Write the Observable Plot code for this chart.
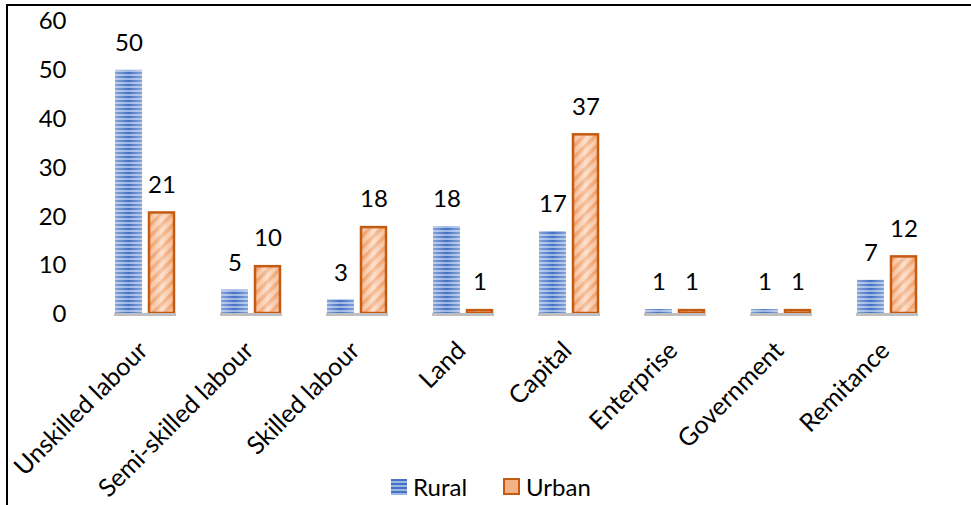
<!DOCTYPE html>
<html>
<head>
<meta charset="utf-8">
<script src="https://cdn.jsdelivr.net/npm/d3@7"></script>
<script src="https://cdn.jsdelivr.net/npm/@observablehq/plot@0.6"></script>
<style>
  html, body { margin: 0; padding: 0; background: #fff; }
  body { width: 971px; height: 505px; position: relative; overflow: hidden; font-family: Lato, sans-serif; }
  #frame { position: absolute; left: 6px; top: 4px; width: 970px; height: 505px; border-left: 2px solid #000; border-top: 2px solid #000; box-sizing: border-box; }
  #chart { position: absolute; left: 0; top: 0; }
  #legend { position: absolute; top: 472px; left: 391px; display: flex; align-items: center; font-size: 24px; color: #000; }
  #legend .item { display: flex; align-items: center; }
  #legend svg { display: block; margin-right: 6px; }
</style>
</head>
<body>
<svg width="0" height="0" style="position:absolute">
  <defs>
    <pattern id="ruralPat" patternUnits="userSpaceOnUse" width="8" height="4">
      <rect width="8" height="4" fill="#9DB6E4"></rect>
      <rect width="8" height="2" fill="#4472C4"></rect>
    </pattern>
    <pattern id="urbanPat" patternUnits="userSpaceOnUse" width="8" height="8" patternTransform="rotate(45)">
      <rect width="8" height="8" fill="#F9D5BC"></rect>
      <rect width="3.5" height="8" fill="#F2A877"></rect>
    </pattern>
    <linearGradient id="glow" x1="0" x2="1" y1="0" y2="0">
      <stop offset="0" stop-color="#fff" stop-opacity="0.35"></stop>
      <stop offset="0.5" stop-color="#fff" stop-opacity="0"></stop>
      <stop offset="1" stop-color="#fff" stop-opacity="0.35"></stop>
    </linearGradient>
    <linearGradient id="glowU" x1="0" x2="1" y1="0" y2="0">
      <stop offset="0" stop-color="#ED7D31" stop-opacity="0.25"></stop>
      <stop offset="0.5" stop-color="#fff" stop-opacity="0.3"></stop>
      <stop offset="1" stop-color="#ED7D31" stop-opacity="0.25"></stop>
    </linearGradient>
  </defs>
</svg>
<div id="frame"></div>
<div id="chart"></div>
<div id="legend">
  <div class="item"><svg width="16" height="16"><rect width="16" height="16" fill="url(#ruralPat)"></rect></svg><span>Rural</span></div>
  <div class="item" style="margin-left:36px"><svg width="17" height="17"><rect x="1" y="1" width="15" height="15" fill="#F4B183" stroke="#C55A11" stroke-width="2"></rect></svg><span>Urban</span></div>
</div>
<script>
const categories = ["Unskilled labour", "Semi-skilled labour", "Skilled labour", "Land", "Capital", "Enterprise", "Government", "Remitance"];
const series = ["Rural", "Urban"];
const rural = [50, 5, 3, 18, 17, 1, 1, 7];
const urban = [21, 10, 18, 1, 37, 1, 1, 12];
const yTicks = [0, 10, 20, 30, 40, 50, 60];

const ruralData = categories.map((c, i) => ({category: c, series: "Rural", value: rural[i]}));
const urbanData = categories.map((c, i) => ({category: c, series: "Urban", value: urban[i]}));
const all = ruralData.concat(urbanData);

const chart = Plot.plot({
  width: 971,
  height: 465,
  marginLeft: 92,
  marginRight: 31,
  marginTop: 21,
  marginBottom: 151,
  style: {fontFamily: "Lato, sans-serif", fontSize: "24px", color: "#000", background: "transparent", overflow: "visible"},
  fx: {domain: categories, paddingInner: 0.415, paddingOuter: 0.2075, label: null},
  x: {domain: series, paddingInner: 0.176, paddingOuter: 0, axis: null},
  y: {domain: [0, 60], label: null},
  marks: [
    Plot.axisY({ticks: yTicks, tickSize: 0, tickPadding: 26, dx: -22, label: null, fontSize: 24, tickFormat: d => String(d)}),
    Plot.axisFx({anchor: "bottom", tickRotate: -45, tickSize: 0, tickPadding: 32, dx: -2, label: null, fontSize: 25}),
    Plot.barY(ruralData, {fx: "category", x: "series", y: "value", fill: "url(#ruralPat)"}),
    Plot.barY(ruralData, {fx: "category", x: "series", y: "value", fill: "url(#glow)"}),
    Plot.barY(urbanData, {fx: "category", x: "series", y: "value", fill: "url(#urbanPat)", inset: 1}),
    Plot.barY(urbanData, {fx: "category", x: "series", y: "value", fill: "url(#glowU)", stroke: "#C55A11", strokeWidth: 2.5, inset: 1}),
    Plot.ruleY([0], {stroke: "#BFBFBF", strokeWidth: 3}),
    Plot.text(all, {fx: "category", x: "series", y: "value", text: d => String(d.value), dy: -27, lineAnchor: "middle", fontSize: 24, fill: "#000"})
  ]
});
document.getElementById("chart").appendChild(chart);
</script>
</body>
</html>
